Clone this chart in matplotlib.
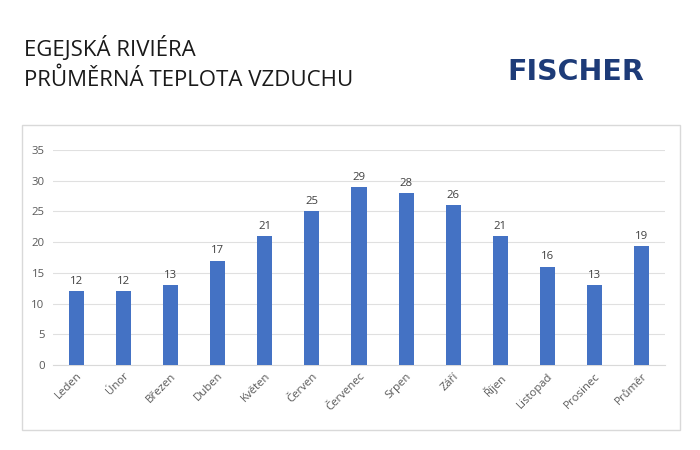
import matplotlib
matplotlib.use("Agg")
import matplotlib.pyplot as plt
from matplotlib.patches import Rectangle

categories = ["Leden", "Únor", "Březen", "Duben", "Květen", "Červen", "Červenec",
              "Srpen", "Září", "Říjen", "Listopad", "Prosinec", "Průměr"]
values = [12, 12, 13, 17, 21, 25, 29, 28, 26, 21, 16, 13, 19.4]
yticks = [0, 5, 10, 15, 20, 25, 30, 35]

W, H = 700, 450
fig = plt.figure(figsize=(7, 4.5), dpi=100)
plt.rcParams['font.family'] = ['Open Sans', 'DejaVu Sans']

# chart frame
fig.patches.append(Rectangle((22 / W, 1 - 430 / H), (680 - 22) / W, (430 - 125) / H,
                             transform=fig.transFigure, fill=False,
                             edgecolor='#d9d9d9', linewidth=1))

# titles
fig.text(24 / W, 1 - 48 / H, "EGEJSKÁ RIVIÉRA", fontsize=16, color='#1a1a1a',
         va='center', ha='left')
fig.text(24 / W, 1 - 80 / H, "PRŮMĚRNÁ TEPLOTA VZDUCHU", fontsize=16, color='#1a1a1a',
         va='center', ha='left')
fig.text(576 / W, 1 - 72 / H, "FISCHER", fontsize=20.5, fontweight='bold',
         family='DejaVu Sans', color='#1d3b78', va='center', ha='center')

# axes: x from 53 to 665, y 0 at 365, 35 at 150
left, right, top, bottom = 53, 665, 150, 365
ax = fig.add_axes([left / W, 1 - bottom / H, (right - left) / W, (bottom - top) / H])
x = range(len(categories))
ax.bar(x, values, width=0.32, color='#4472c4', zorder=3)
for xi, v in zip(x, values):
    ax.text(xi, v + 0.7, f"{v:.0f}", ha='center', va='bottom', fontsize=8.2,
            color='#404040')
ax.set_xlim(-0.5, len(categories) - 0.5)
ax.set_ylim(0, 35)
ax.set_yticks(yticks)
ax.grid(axis='y', color='#e0e0e0', linewidth=0.8, zorder=0)
for s in ['top', 'right', 'left']:
    ax.spines[s].set_visible(False)
ax.spines['bottom'].set_color('#d9d9d9')
ax.tick_params(axis='both', length=0, labelsize=8.2, labelcolor='#595959')
ax.tick_params(axis='y', pad=6)
ax.tick_params(axis='x', pad=4)
ax.set_xticks(list(x))
ax.set_xticklabels(categories, rotation=45, ha='right', rotation_mode='anchor')

fig.savefig("out.png", dpi=100)
